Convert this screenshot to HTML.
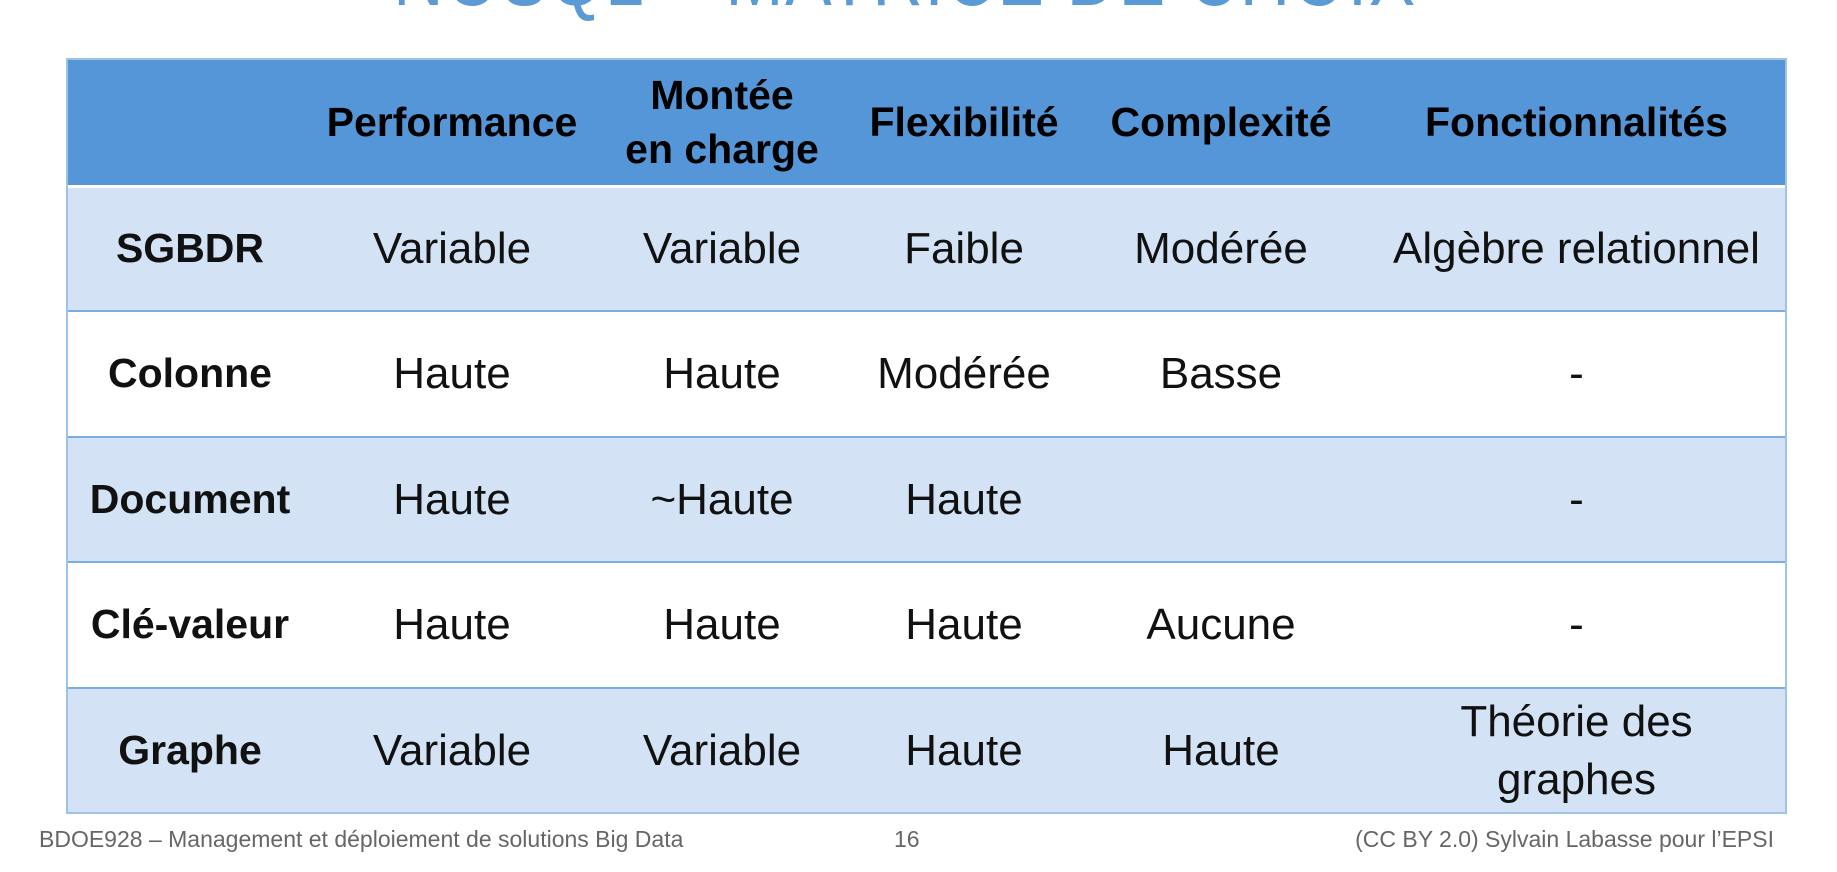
<!DOCTYPE html>
<html><head><meta charset="utf-8"><style>
body{margin:0;width:1837px;height:872px;background:#fff;position:relative;overflow:hidden;font-family:"Liberation Sans",sans-serif;}
.title{position:absolute;left:0;width:1810px;text-align:center;top:-72px;font-size:84px;color:#5b9bd5;letter-spacing:2px;white-space:nowrap;transform:scaleX(0.83);transform-origin:905px 0}
.tbl{position:absolute;left:66px;top:58px;width:1721px;height:756px;border:2px solid #9dc3e6;box-sizing:border-box;}
.row{position:absolute;left:0;right:0;}
.cell{position:absolute;top:0;bottom:0;display:flex;align-items:center;justify-content:center;text-align:center;font-size:44px;color:#111;line-height:1.3;white-space:nowrap}
.h .cell{font-weight:bold;font-size:41px;color:#000}
.b{font-weight:bold;font-size:41px!important}
.foot{position:absolute;top:826px;font-size:23px;color:#666}
</style></head><body>
<div class="title">NOSQL – MATRICE DE CHOIX</div>
<div class="tbl">
<div class="row h" style="top:0;height:125px;background:#5596d8">
 <div class="cell" style="left:244px;width:280px">Performance</div>
 <div class="cell" style="left:524px;width:260px">Montée<br>en charge</div>
 <div class="cell" style="left:784px;width:224px">Flexibilité</div>
 <div class="cell" style="left:1008px;width:290px">Complexité</div>
 <div class="cell" style="left:1298px;width:421px">Fonctionnalités</div>
</div>
<div class="row" style="top:125px;height:125px;background:#d3e3f5;border-top:3px solid #fff;box-sizing:border-box"></div>
<div class="row" style="top:250px;height:126px;background:#fff;border-top:2px solid #7aaee3;box-sizing:border-box"></div>
<div class="row" style="top:376px;height:125px;background:#d3e3f5;border-top:2px solid #7aaee3;box-sizing:border-box"></div>
<div class="row" style="top:501px;height:126px;background:#fff;border-top:2px solid #7aaee3;box-sizing:border-box"></div>
<div class="row" style="top:627px;height:125px;background:#d3e3f5;border-top:2px solid #7aaee3;box-sizing:border-box"></div>

<div class="row" style="top:128px;height:122px">
 <div class="cell b" style="left:0;width:244px">SGBDR</div>
 <div class="cell" style="left:244px;width:280px">Variable</div>
 <div class="cell" style="left:524px;width:260px">Variable</div>
 <div class="cell" style="left:784px;width:224px">Faible</div>
 <div class="cell" style="left:1008px;width:290px">Modérée</div>
 <div class="cell" style="left:1298px;width:421px">Algèbre relationnel</div>
</div>
<div class="row" style="top:252px;height:124px">
 <div class="cell b" style="left:0;width:244px">Colonne</div>
 <div class="cell" style="left:244px;width:280px">Haute</div>
 <div class="cell" style="left:524px;width:260px">Haute</div>
 <div class="cell" style="left:784px;width:224px">Modérée</div>
 <div class="cell" style="left:1008px;width:290px">Basse</div>
 <div class="cell" style="left:1298px;width:421px">-</div>
</div>
<div class="row" style="top:378px;height:123px">
 <div class="cell b" style="left:0;width:244px">Document</div>
 <div class="cell" style="left:244px;width:280px">Haute</div>
 <div class="cell" style="left:524px;width:260px">~Haute</div>
 <div class="cell" style="left:784px;width:224px">Haute</div>
 <div class="cell" style="left:1298px;width:421px">-</div>
</div>
<div class="row" style="top:503px;height:124px">
 <div class="cell b" style="left:0;width:244px">Clé-valeur</div>
 <div class="cell" style="left:244px;width:280px">Haute</div>
 <div class="cell" style="left:524px;width:260px">Haute</div>
 <div class="cell" style="left:784px;width:224px">Haute</div>
 <div class="cell" style="left:1008px;width:290px">Aucune</div>
 <div class="cell" style="left:1298px;width:421px">-</div>
</div>
<div class="row" style="top:629px;height:123px">
 <div class="cell b" style="left:0;width:244px">Graphe</div>
 <div class="cell" style="left:244px;width:280px">Variable</div>
 <div class="cell" style="left:524px;width:260px">Variable</div>
 <div class="cell" style="left:784px;width:224px">Haute</div>
 <div class="cell" style="left:1008px;width:290px">Haute</div>
 <div class="cell" style="left:1298px;width:421px">Théorie des<br>graphes</div>
</div>
</div>
<div class="foot" style="left:39px">BDOE928 – Management et déploiement de solutions Big Data</div>
<div class="foot" style="left:894px">16</div>
<div class="foot" style="right:63px">(CC BY 2.0) Sylvain Labasse pour l’EPSI</div>
</body></html>
